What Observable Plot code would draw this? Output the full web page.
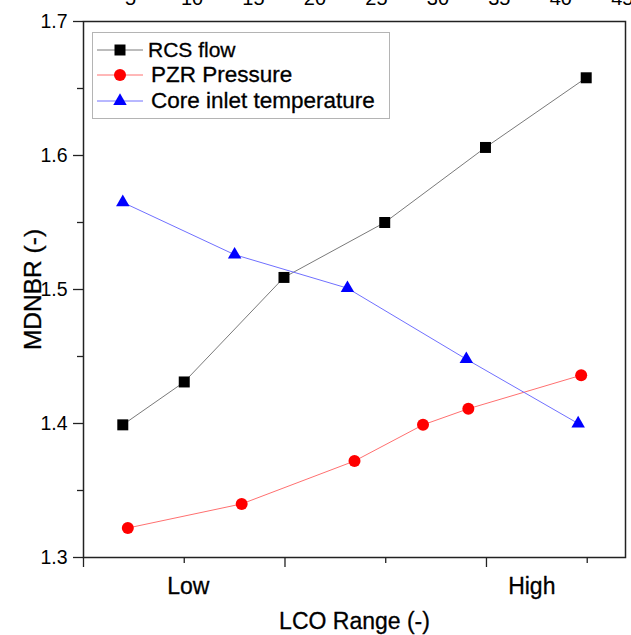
<!DOCTYPE html>
<html>
<head>
<meta charset="utf-8">
<script src="https://cdn.jsdelivr.net/npm/d3@7"></script>
<script src="https://cdn.jsdelivr.net/npm/@observablehq/plot@0.6"></script>
<style>
  html, body { margin: 0; padding: 0; background: #fff; overflow: hidden; }
  #wrap { position: relative; width: 631px; height: 635px; overflow: hidden;
          font-family: "Liberation Sans", Arial, sans-serif; }
  #chart svg { display: block; margin-top: -20px; }
  #legend { position: absolute; left: 92px; top: 32px; width: 298px; height: 87px;
            border: 1px solid #b4b4b4; background: #fff; box-sizing: border-box; }
  .row { position: absolute; left: 0; height: 26px; display: flex; align-items: center; }
  .row svg { display: block; }
  .row span { color: #000; white-space: nowrap; -webkit-text-stroke: 0.3px #000; }
</style>
</head>
<body>
<div id="wrap">
  <div id="chart"></div>
  <div id="legend"></div>
</div>
<script>
// ---- data ----
const seriesNames = ["RCS flow", "PZR Pressure", "Core inlet temperature"];
const seriesColors = ["#000000", "#ff0000", "#0000ff"];
const lineColors = ["#7a7a7a", "#ff7070", "#7070ff"];
const seriesSymbols = ["square", "circle", "triangle"];

const rcsX = [0.39, 1.00, 1.99, 2.99, 3.99, 4.99];
const rcsY = [1.399, 1.431, 1.509, 1.550, 1.606, 1.658];

const pzrX = [0.44, 1.57, 2.69, 3.37, 3.82, 4.94];
const pzrY = [1.322, 1.340, 1.372, 1.399, 1.411, 1.436];

const coreX = [0.39, 1.50, 2.62, 3.80, 4.91];
const coreY = [1.565, 1.526, 1.501, 1.448, 1.400];

const yMajor = [1.3, 1.4, 1.5, 1.6, 1.7];
const yMinor = [1.35, 1.45, 1.55, 1.65];
const xMajor = [0, 2, 4];
const xMinor = [1, 3, 5];
const xLabelText = ["Low", "High"];
const xLabelPos = [1.04, 4.45];
const topTicks = [5, 10, 15, 20, 25, 30, 35, 40, 45];
// secondary (top) axis: linear relation to bottom units
const topToBottom = t => 0.467 + (t - 5) * 0.12203;
const bottomToTop = u => (u - 0.467) / 0.12203 + 5;

const mk = (xs, ys, name) => xs.map((x, i) => ({x, y: ys[i], name}));
const rcs = mk(rcsX, rcsY, seriesNames[0]);
const pzr = mk(pzrX, pzrY, seriesNames[1]);
const core = mk(coreX, coreY, seriesNames[2]);
const xLabels = xLabelText.map((t, i) => ({label: t, x: xLabelPos[i]}));

const font = '"Liberation Sans", Arial, sans-serif';
const heavy = {stroke: "#000", strokeWidth: 0.3, fill: "#000"};

const plot = Plot.plot({
  width: 631,
  height: 655,
  marginLeft: 83,
  marginRight: 6,
  marginTop: 41,
  marginBottom: 78,
  style: {fontFamily: font, color: "#000", background: "#fff", overflow: "visible"},
  x: {domain: [0, 5.38]},
  y: {domain: [1.3, 1.7]},
  marks: [
    Plot.axisY(yMajor, {tickSize: 10, tickPadding: 6, fontSize: 19.5, label: null, tickFormat: d3.format(".1f"), stroke: "#222", strokeWidth: 1.3}),
    Plot.axisY(yMinor, {tickSize: 6, tickFormat: () => "", label: null, stroke: "#222", strokeWidth: 1.3}),
    Plot.axisX(xMajor, {tickSize: 10, tickFormat: () => "", label: null, stroke: "#222", strokeWidth: 1.3}),
    Plot.axisX(xMinor, {tickSize: 6, tickFormat: () => "", label: null, stroke: "#222", strokeWidth: 1.3}),
    Plot.axisX(topTicks.map(topToBottom), {anchor: "top", tickSize: 0, tickPadding: 17, fontSize: 20, label: null,
      tickFormat: u => String(Math.round(bottomToTop(u)))}),
    Plot.text(xLabels, {x: "x", text: "label", frameAnchor: "bottom", lineAnchor: "middle", dy: 29, fontSize: 23, ...heavy}),
    Plot.text(["LCO Range (-)"], {frameAnchor: "bottom", lineAnchor: "middle", dy: 64, fontSize: 23, ...heavy}),
    Plot.text(["MDNBR (-)"], {frameAnchor: "left", textAnchor: "middle", lineAnchor: "middle", dx: -50, rotate: -90, fontSize: 24.5, ...heavy}),
    Plot.frame({stroke: "#222", strokeWidth: 1.5}),
    Plot.line(rcs, {x: "x", y: "y", stroke: lineColors[0], strokeWidth: 1}),
    Plot.line(pzr, {x: "x", y: "y", stroke: lineColors[1], strokeWidth: 1}),
    Plot.line(core, {x: "x", y: "y", stroke: lineColors[2], strokeWidth: 1}),
    Plot.dot(rcs, {x: "x", y: "y", symbol: seriesSymbols[0], fill: seriesColors[0], r: 6.2}),
    Plot.dot(pzr, {x: "x", y: "y", symbol: seriesSymbols[1], fill: seriesColors[1], r: 6}),
    Plot.dot(core, {x: "x", y: "y", symbol: seriesSymbols[2], fill: seriesColors[2], r: 5})
  ]
});
document.getElementById("chart").appendChild(plot);

// ---- legend ----
const legend = d3.select("#legend");
const symR = [6.2, 6, 5];
const symType = [d3.symbolSquare, d3.symbolCircle, d3.symbolTriangle];
const rowTop = [4, 29, 55];
const fontSizes = [21, 22.5, 22.5];
const textLeft = [3, 6, 6];
seriesNames.forEach((name, i) => {
  const row = legend.append("div").attr("class", "row").style("top", rowTop[i] + "px");
  const svg = row.append("svg").attr("width", 52).attr("height", 26);
  svg.append("line").attr("x1", 4).attr("x2", 50).attr("y1", 13).attr("y2", 13)
     .attr("stroke", lineColors[i]).attr("stroke-width", 1);
  svg.append("path").attr("transform", "translate(27,13)")
     .attr("d", d3.symbol(symType[i], Math.PI * symR[i] * symR[i])())
     .attr("fill", seriesColors[i]);
  row.append("span").style("font-size", fontSizes[i] + "px").style("margin-left", textLeft[i] + "px").text(name);
});
</script>
</body>
</html>
